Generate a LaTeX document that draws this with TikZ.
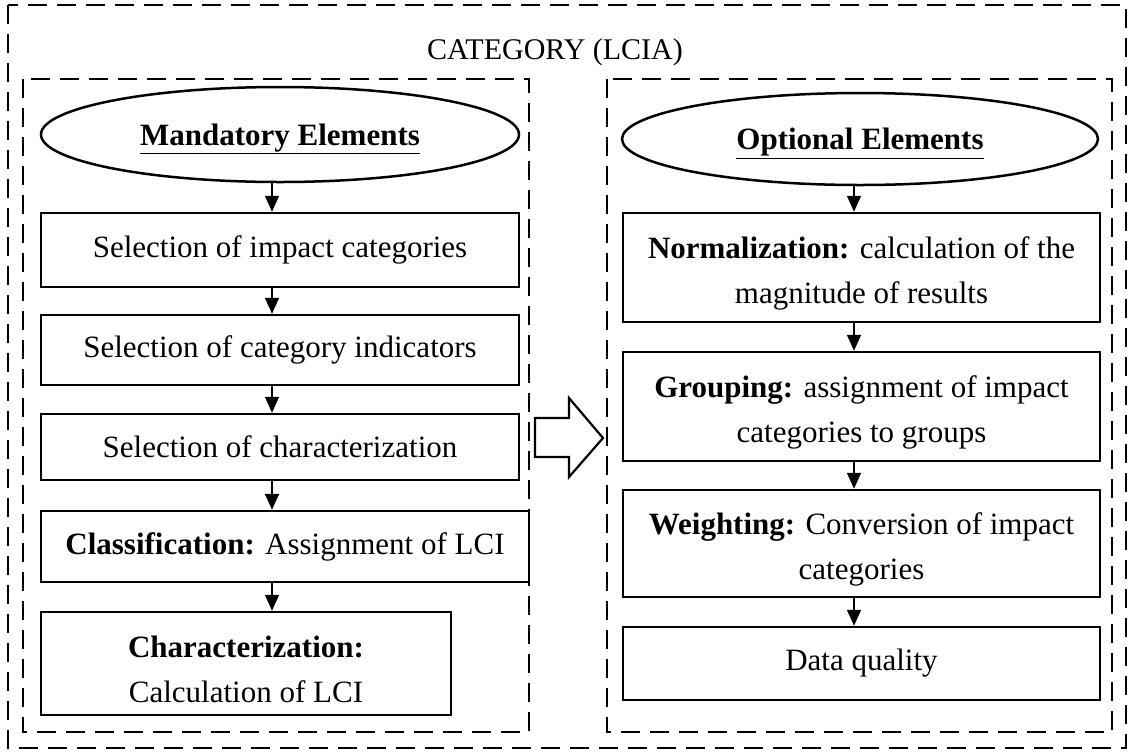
\documentclass[tikz,border=0pt]{standalone}
\usepackage{fontspec}
\setmainfont{Liberation Serif}
\usetikzlibrary{arrows.meta,shapes.geometric}
\newcommand{\lowstrut}{\rule{0pt}{33pt}}
\newcommand{\ellstrut}{\rule{0pt}{30pt}}
\begin{document}
\begin{tikzpicture}[x=1pt,y=-1pt,
 dashbox/.style={draw, line width=2.2pt, dash pattern=on 19pt off 10pt},
 stepbox/.style={draw, line width=2.5pt, rectangle, inner sep=0pt, align=center, font=\fontsize{31}{45}\selectfont},
 headell/.style={draw, ellipse, line width=2.5pt, inner sep=0pt, font=\bfseries\fontsize{31}{36}\selectfont},
 flow/.style={line width=1.6pt, -{Triangle[width=14pt,length=16pt]}}]
\useasboundingbox (0,0) rectangle (1129,753);
\draw[dashbox] (8,5) rectangle (1126,748);
\draw[dashbox] (23,79) rectangle (529,732);
\draw[dashbox] (607,79) rectangle (1112,732);
\node[font=\fontsize{30}{36}\selectfont] (title) at (555,52) {CATEGORY (LCIA)};

\node[headell, minimum width=478pt, minimum height=95pt] (le) at (280,134.5) {\ellstrut\underline{Mandatory Elements}};
\node[stepbox, minimum width=478pt, minimum height=74pt] (l1) at (280,250) {Selection of impact categories};
\node[stepbox, minimum width=478pt, minimum height=70pt] (l2) at (280,350) {Selection of category indicators};
\node[stepbox, minimum width=478pt, minimum height=66pt] (l3) at (280,447) {Selection of characterization};
\node[stepbox, minimum width=488pt, minimum height=71pt] (l4) at (285,546.5) {\textbf{Classification:} Assignment of LCI};
\node[stepbox, minimum width=410pt, minimum height=103pt] (l5) at (246,663.5) {\lowstrut\textbf{Characterization:}\\Calculation of LCI};

\node[headell, minimum width=476pt, minimum height=92pt] (re) at (860,139) {\ellstrut\underline{Optional Elements}};
\node[stepbox, minimum width=477pt, minimum height=109pt] (r1) at (861.5,267.5) {\lowstrut\textbf{Normalization:} calculation of the\\magnitude of results};
\node[stepbox, minimum width=477pt, minimum height=109pt] (r2) at (861.5,406.5) {\lowstrut\textbf{Grouping:} assignment of impact\\categories to groups};
\node[stepbox, minimum width=477pt, minimum height=107pt] (r3) at (861.5,543.5) {\lowstrut\textbf{Weighting:} Conversion of impact\\categories};
\node[stepbox, minimum width=477pt, minimum height=73pt] (r4) at (861.5,663.5) {Data quality};

\coordinate (cl) at (272,0);
\coordinate (cr) at (854,0);
\draw[flow] (le.south -| cl) -- (l1.north -| cl);
\draw[flow] (l1.south -| cl) -- (l2.north -| cl);
\draw[flow] (l2.south -| cl) -- (l3.north -| cl);
\draw[flow] (l3.south -| cl) -- (l4.north -| cl);
\draw[flow] (l4.south -| cl) -- (l5.north -| cl);
\draw[flow] (re.south -| cr) -- (r1.north -| cr);
\draw[flow] (r1.south -| cr) -- (r2.north -| cr);
\draw[flow] (r2.south -| cr) -- (r3.north -| cr);
\draw[flow] (r3.south -| cr) -- (r4.north -| cr);

\draw[line width=2.2pt, fill=white] (535,418) -- (569,418) -- (569,398) -- (603,438) -- (569,477) -- (569,457) -- (535,457) -- cycle;
\end{tikzpicture}
\end{document}
